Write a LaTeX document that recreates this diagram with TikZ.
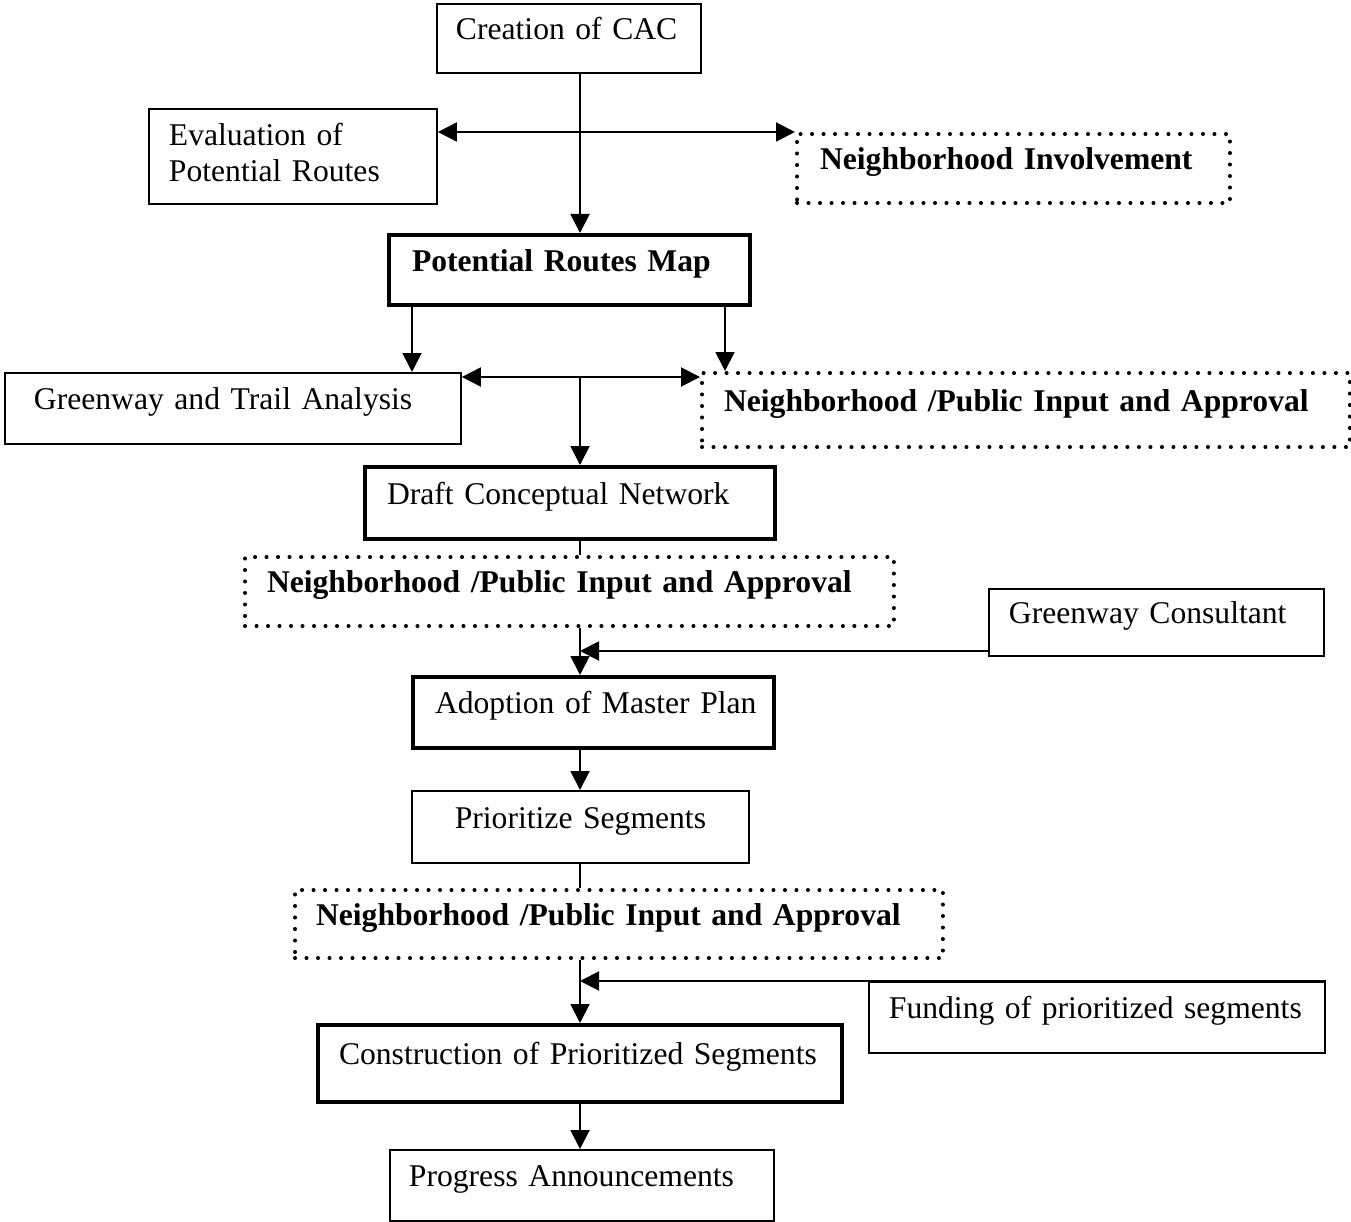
\documentclass[tikz,border=0pt]{standalone}
\usepackage{fontspec}
\setmainfont{Liberation Serif}
\usetikzlibrary{arrows.meta}

\begin{document}
\begin{tikzpicture}[x=0.02cm, y=-0.02cm,
    >={Triangle[length=0.38cm, width=0.38cm]},
    every path/.style={line width=1.1pt},
    lpad/.style={execute at begin node={\leftskip=#1}},
    box/.style={draw, line width=1.1pt, anchor=north west, inner xsep=0pt, inner ysep=0pt,
        align=left, font=\fontsize{18pt}{20pt}\selectfont, text height=12.6pt, text depth=11pt},
    thickbox/.style={box, line width=2.3pt},
    dotbox/.style={box, line width=2.3pt, line cap=round, dash pattern=on 0pt off 0.23cm,
        font=\fontsize{18pt}{20pt}\selectfont\bfseries}]
    \useasboundingbox (0,0) rectangle (1351,1222);

    \node[box, text width=5.28cm, minimum height=1.38cm, lpad=0.38cm] (cac) at (436,3) {Creation of CAC};
    \node[box, text width=5.76cm, minimum height=1.90cm, lpad=0.40cm, text depth=24.5pt] (eval) at (148,108) {Evaluation of\\Potential Routes};
    \node[dotbox, text width=8.66cm, minimum height=1.38cm, lpad=0.46cm] (ni) at (795,132) {Neighborhood Involvement};
    \node[thickbox, text width=7.22cm, minimum height=1.40cm, lpad=0.46cm, font=\fontsize{18pt}{20pt}\selectfont\bfseries] (prm) at (387,233) {Potential Routes Map};
    \node[box, text width=9.12cm, minimum height=1.42cm, lpad=0.58cm] (gta) at (4,372) {Greenway and Trail Analysis};
    \node[dotbox, text width=12.96cm, minimum height=1.48cm, lpad=0.44cm] (npia1) at (700,371) {Neighborhood /Public Input and Approval};
    \node[thickbox, text width=8.20cm, minimum height=1.44cm, lpad=0.44cm] (draft) at (363,465) {Draft Conceptual Network};
    \node[dotbox, text width=12.98cm, minimum height=1.38cm, lpad=0.44cm] (npia2) at (243,555) {Neighborhood /Public Input and Approval};
    \node[box, text width=6.70cm, minimum height=1.34cm, lpad=0.40cm] (gc) at (988,588) {Greenway Consultant};
    \node[thickbox, text width=7.22cm, minimum height=1.42cm, lpad=0.44cm] (adopt) at (411,675) {Adoption of Master Plan};
    \node[box, text width=6.74cm, minimum height=1.44cm, align=center] (prio) at (411,790) {Prioritize Segments};
    \node[dotbox, text width=12.96cm, minimum height=1.36cm, lpad=0.42cm] (npia3) at (293,888) {Neighborhood /Public Input and Approval};
    \node[box, text width=9.12cm, minimum height=1.42cm, lpad=0.40cm] (fund) at (868,981) {Funding of prioritized segments};
    \node[thickbox, text width=10.48cm, minimum height=1.54cm, lpad=0.42cm] (cons) at (316,1023) {Construction of Prioritized Segments};
    \node[box, text width=7.68cm, minimum height=1.42cm, lpad=0.38cm] (prog) at (389,1149) {Progress Announcements};

    \coordinate (spine) at (580,0);
    \coordinate (c1) at (412,0);
    \coordinate (c2) at (725,0);
    \coordinate (j1) at (580,132);
    \coordinate (j2) at (580,377);
    \coordinate (j3) at (580,651);

    \draw[->] (spine |- cac.south) -- (spine |- prm.north);
    \draw[<->] (eval.east |- j1) -- (ni.west |- j1);
    \draw[->] (c1 |- prm.south) -- (c1 |- gta.north);
    \draw[->] (c2 |- prm.south) -- (c2 |- npia1.north);
    \draw[<->] (gta.east |- j2) -- (npia1.west |- j2);
    \draw[->] (j2) -- (spine |- draft.north);
    \draw (spine |- draft.south) -- (spine |- npia2.north);
    \draw[->] (spine |- npia2.south) -- (spine |- adopt.north);
    \draw[->] (gc.west |- j3) -- (j3);
    \draw[->] (spine |- adopt.south) -- (spine |- prio.north);
    \draw (spine |- prio.south) -- (spine |- npia3.north);
    \draw[->] (spine |- npia3.south) -- (spine |- cons.north);
    \draw[->] (fund.north east) -- (spine |- fund.north);
    \draw[->] (spine |- cons.south) -- (spine |- prog.north);
\end{tikzpicture}
\end{document}
